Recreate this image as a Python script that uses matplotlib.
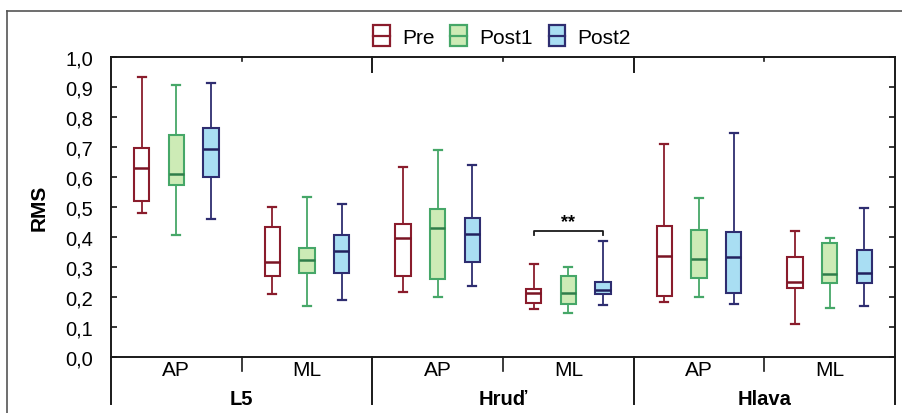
import matplotlib
matplotlib.use("Agg")
import matplotlib.pyplot as plt
from matplotlib.patches import Rectangle, Patch
from matplotlib.lines import Line2D
from matplotlib.legend_handler import HandlerBase

plt.rcParams['font.family'] = ['Liberation Sans', 'DejaVu Sans']

# ---- data ----
groups = ["L5", "Hruď", "Hlava"]
directions = ["AP", "ML"]
series = ["Pre", "Post1", "Post2"]

# order: L5-AP, L5-ML, Hrud-AP, Hrud-ML, Hlava-AP, Hlava-ML
pre_whislo = [0.480, 0.210, 0.218, 0.160, 0.182, 0.111]
pre_q1     = [0.521, 0.271, 0.269, 0.179, 0.202, 0.231]
pre_med    = [0.630, 0.316, 0.397, 0.213, 0.338, 0.251]
pre_q3     = [0.696, 0.432, 0.442, 0.226, 0.436, 0.333]
pre_whishi = [0.934, 0.500, 0.632, 0.310, 0.709, 0.420]

post1_whislo = [0.406, 0.169, 0.201, 0.148, 0.201, 0.164]
post1_q1     = [0.573, 0.279, 0.260, 0.177, 0.262, 0.246]
post1_med    = [0.610, 0.322, 0.430, 0.213, 0.326, 0.277]
post1_q3     = [0.741, 0.363, 0.493, 0.269, 0.422, 0.379]
post1_whishi = [0.908, 0.534, 0.689, 0.301, 0.530, 0.397]

post2_whislo = [0.459, 0.191, 0.237, 0.173, 0.176, 0.171]
post2_q1     = [0.599, 0.279, 0.317, 0.209, 0.213, 0.248]
post2_med    = [0.693, 0.354, 0.410, 0.222, 0.333, 0.280]
post2_q3     = [0.763, 0.408, 0.463, 0.251, 0.416, 0.358]
post2_whishi = [0.912, 0.509, 0.641, 0.388, 0.747, 0.497]

y_ticks = [0.0, 0.1, 0.2, 0.3, 0.4, 0.5, 0.6, 0.7, 0.8, 0.9, 1.0]
sig_label = "**"
sig_subgroup = 3      # Hrud-ML
sig_level = 0.419

# ---- styles ----
edge_colors = ["#8a1c2c", "#46a768", "#2e2d70"]
face_colors = ["#ffffff", "#cdebb6", "#a9def3"]
med_colors = ["#7a1424", "#2f7d4a", "#22215e"]
offsets = [-0.265, 0.0, 0.265]
box_w = 0.118
cap_w = 0.06

data_sets = [
    (pre_whislo, pre_q1, pre_med, pre_q3, pre_whishi),
    (post1_whislo, post1_q1, post1_med, post1_q3, post1_whishi),
    (post2_whislo, post2_q1, post2_med, post2_q3, post2_whishi),
]

fig = plt.figure(figsize=(9.02, 4.14), dpi=100)
W, H = 902, 414
ax = fig.add_axes([111 / W, 1 - 358 / H, (895 - 111) / W, 300 / H])

n_sub = len(groups) * len(directions)
for s, (lo, q1, med, q3, hi) in enumerate(data_sets):
    stats = []
    for i in range(n_sub):
        stats.append(dict(whislo=lo[i], q1=q1[i], med=med[i], q3=q3[i],
                          whishi=hi[i], fliers=[]))
    pos = [i + 0.5 + offsets[s] for i in range(n_sub)]
    ax.bxp(stats, positions=pos, widths=box_w, capwidths=cap_w,
           showfliers=False, patch_artist=True,
           boxprops=dict(facecolor=face_colors[s], edgecolor=edge_colors[s], linewidth=1.5),
           whiskerprops=dict(color=edge_colors[s], linewidth=1.3),
           capprops=dict(color=edge_colors[s], linewidth=1.6),
           medianprops=dict(color=med_colors[s], linewidth=1.8),
           manage_ticks=False)

ax.set_xlim(0, n_sub)
ax.set_ylim(0, 1.0)
ax.set_yticks(y_ticks)
ax.set_yticklabels([f"{v:.1f}".replace('.', ',') for v in y_ticks])
ax.tick_params(axis='y', direction='in', length=4, width=1.1, pad=13,
               labelsize=14.5, right=True, left=True)
ax.set_xticks([])
for sp in ax.spines.values():
    sp.set_linewidth(1.4)
    sp.set_color("#1a1a1a")

ax.set_ylabel("RMS", fontsize=15, fontweight='bold', labelpad=12)

# category axis: separators and labels
tr = ax.get_xaxis_transform()
for xb in range(0, n_sub + 1, 2):
    ax.plot([xb, xb], [0, -0.155], transform=tr, color="#1a1a1a", lw=1.4, clip_on=False)
for xb in range(1, n_sub, 2):
    ax.plot([xb, xb], [0, -0.045], transform=tr, color="#1a1a1a", lw=1.2, clip_on=False)
    ax.plot([xb, xb], [1, 0.987], transform=tr, color="#1a1a1a", lw=1.2, clip_on=False)
for xb in range(2, n_sub, 2):
    ax.plot([xb, xb], [1, 0.95], transform=tr, color="#1a1a1a", lw=1.4, clip_on=False)

for i in range(n_sub):
    ax.text(i + 0.5, -0.043, directions[i % 2], transform=tr, ha='center', va='center',
            fontsize=15)
for g, name in enumerate(groups):
    ax.text(2 * g + 1, -0.138, name, transform=tr, ha='center', va='center',
            fontsize=14.5, fontweight='bold')

# significance bracket
xl = sig_subgroup + 0.5 + offsets[0]
xr = sig_subgroup + 0.5 + offsets[2]
ax.plot([xl, xl, xr, xr], [sig_level - 0.012, sig_level, sig_level, sig_level - 0.012],
        color="#1a1a1a", lw=1.3)
ax.text((xl + xr) / 2, sig_level + 0.003, sig_label, ha='center', va='bottom',
        fontsize=13, fontweight='bold')

# legend with box-like handles
class BoxHandler(HandlerBase):
    def create_artists(self, legend, orig_handle, xdescent, ydescent, width, height,
                       fontsize, trans):
        r = Rectangle((-xdescent, -ydescent), width, height,
                      facecolor=orig_handle.get_facecolor(),
                      edgecolor=orig_handle.get_edgecolor(), linewidth=1.6,
                      transform=trans)
        l = Line2D([-xdescent, -xdescent + width],
                   [-ydescent + height / 2, -ydescent + height / 2],
                   color=orig_handle.get_edgecolor(), linewidth=1.6, transform=trans)
        return [r, l]

handles = [Patch(facecolor=face_colors[i], edgecolor=edge_colors[i]) for i in range(3)]
fig.legend(handles, series, loc='center', bbox_to_anchor=(502 / W, 1 - 37 / H),
           ncol=3, frameon=False, fontsize=15, handler_map={Patch: BoxHandler()},
           handlelength=0.8, handleheight=1.15, handletextpad=0.6, columnspacing=0.75,
           borderpad=0.0)

# outer frame of the figure
fig.add_artist(Line2D([7 / W, 7 / W], [1 - 12 / H, -0.05], transform=fig.transFigure,
                      color="#555555", lw=1.2))
fig.add_artist(Line2D([7 / W, 1.01], [1 - 12 / H, 1 - 12 / H], transform=fig.transFigure,
                      color="#555555", lw=1.2))

fig.savefig("out.png", dpi=100)
